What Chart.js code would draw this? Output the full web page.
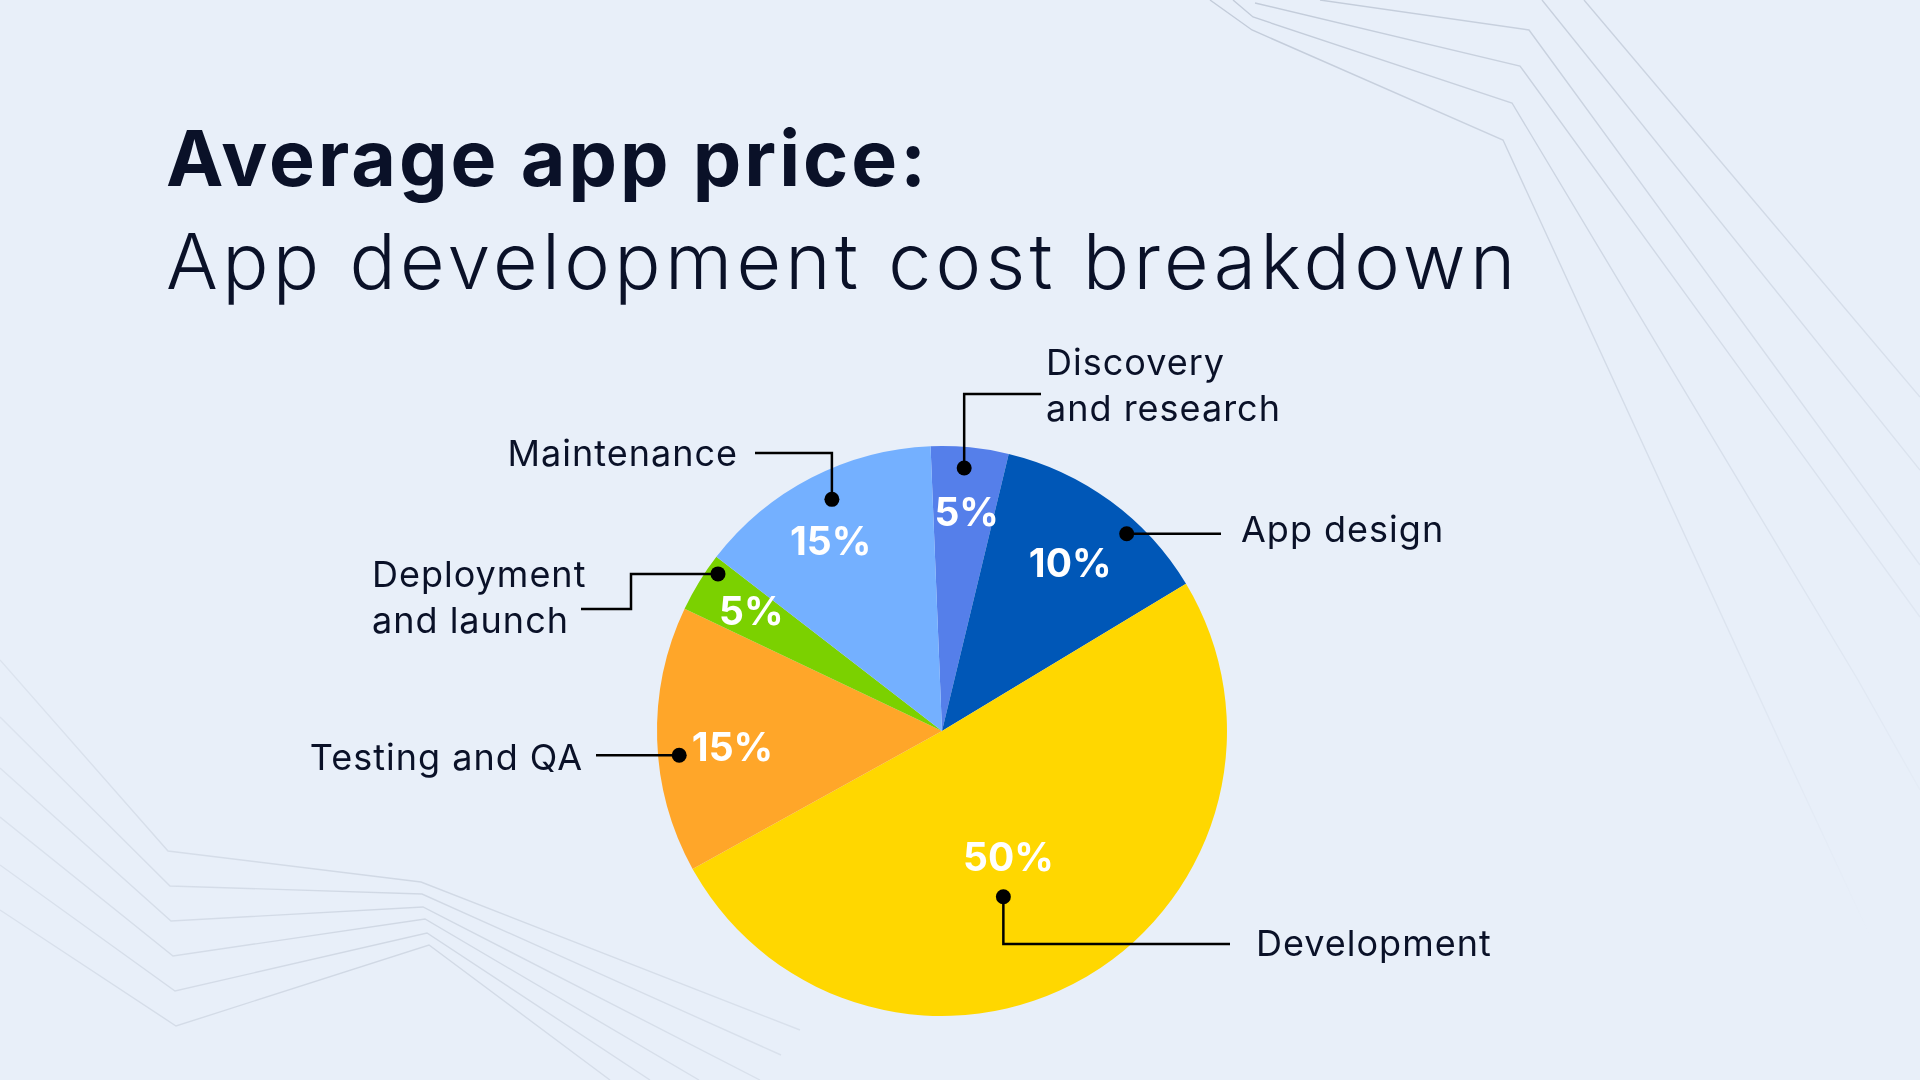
<!DOCTYPE html>
<html>
<head>
<meta charset="utf-8">
<title>Average app price</title>
<script src="https://cdn.jsdelivr.net/npm/chart.js@4.4.1/dist/chart.umd.min.js"></script>
<style>
  html, body { margin: 0; padding: 0; }
  body {
    width: 1920px; height: 1080px; overflow: hidden; position: relative;
    background: #E8EFF9; color: #0A1128; font-family: Inter, "Open Sans", sans-serif;
  }
  .bg { position: absolute; left: 0; top: 0; }
  .title, .subtitle { position: absolute; left: 166px; margin: 0; line-height: 1; white-space: nowrap; }
  .title { top: 120px; font-size: 77px; font-weight: 700; letter-spacing: 3px; }
  .subtitle { top: 223px; font-size: 77px; font-weight: 300; letter-spacing: 4.3px; }
  .chart-box { position: absolute; left: 0; top: 0; width: 1920px; height: 1080px; }
</style>
</head>
<body>

<!-- decoratieve lijnen op de achtergrond -->
<svg class="bg" width="1920" height="1080">
  <defs>
    <linearGradient id="fadeTop" gradientUnits="userSpaceOnUse" x1="1300" y1="0" x2="1850" y2="950">
      <stop offset="0" stop-color="#C3CCDA" stop-opacity="1"/>
      <stop offset="1" stop-color="#C3CCDA" stop-opacity="0"/>
    </linearGradient>
    <linearGradient id="fadeBottom" gradientUnits="userSpaceOnUse" x1="0" y1="700" x2="800" y2="1080">
      <stop offset="0" stop-color="#D0D8E4" stop-opacity="0.5"/>
      <stop offset="0.5" stop-color="#D0D8E4" stop-opacity="1"/>
      <stop offset="1" stop-color="#D0D8E4" stop-opacity="0.6"/>
    </linearGradient>
  </defs>
  <g fill="none" stroke="url(#fadeTop)" stroke-width="1.4">
    <polyline points="1210,0 1252,30 1503,140 1790,764 1900,1000"/>
    <polyline points="1233,0 1253,17 1512,103 1858,680 1920,790"/>
    <polyline points="1255,3 1520,66 1920,617"/>
    <polyline points="1320,0 1529,30 1920,565"/>
    <polyline points="1542,0 1920,470"/>
    <polyline points="1584,0 1920,397"/>
  </g>
  <g fill="none" stroke="url(#fadeBottom)" stroke-width="1.4">
    <polyline points="0,660 168,851 421,882 800,1030"/>
    <polyline points="0,717 170,886 422,894 781,1055"/>
    <polyline points="0,768 171,921 423,907 760,1080"/>
    <polyline points="0,817 173,956 425,919 699,1080"/>
    <polyline points="0,865 175,991 427,933 650,1080"/>
    <polyline points="0,910 176,1026 429,945 610,1080"/>
  </g>
</svg>

<h1 class="title">Average app price:</h1>
<h2 class="subtitle">App development cost breakdown</h2>

<div class="chart-box"><canvas id="costChart"></canvas></div>

<script>
// Categorieen en waarden
const categories = ["Discovery and research", "App design", "Development", "Testing and QA", "Deployment and launch", "Maintenance"];
// slice sizes as drawn in the picture (%)
const shares = [4.4, 12.6, 50.6, 15.1, 3.4, 13.9];
// percentages as printed on the slices
const shareLabels = ["5%", "10%", "50%", "15%", "5%", "15%"];
const sliceColors = ["#557FEA", "#0057B7", "#FFD700", "#FFA629", "#7BD100", "#74B0FF"];

// where the printed labels and the callouts go, per slice
const callouts = [
  { pctR: 0.775, pctTurn: 0.8,  dotR: 0.926, dotTurn: -0.8, path: [["y", 394], ["x", 1041]], lines: ["Discovery", "and research"], tx: 1046, ty: 375, align: "left" },
  { pctR: 0.742, pctTurn: 1.1,  dotR: 0.948, dotTurn: 6.9,  path: [["x", 1221]], lines: ["App design"], tx: 1241, ty: 542, align: "left" },
  { pctR: 0.50,  pctTurn: 2.2,  dotR: 0.62,  dotTurn: 9.7,  path: [["y", 944], ["x", 1230]], lines: ["Development"], tx: 1256, ty: 956, align: "left" },
  { pctR: 0.737, pctTurn: -2.5, dotR: 0.926, dotTurn: -3.5, path: [["x", 596]], lines: ["Testing and QA"], tx: 583, ty: 770, align: "right" },
  { pctR: 0.79,  pctTurn: 0.6,  dotR: 0.96,  dotTurn: 3.5,  path: [["x", 631], ["y", 609], ["x", 581]], lines: ["Deployment", "and launch"], tx: 372, ty: 587, align: "left" },
  { pctR: 0.774, pctTurn: -3.0, dotR: 0.90,  dotTurn: 1.9,  path: [["y", 453], ["x", 755]], lines: ["Maintenance"], tx: 738, ty: 466, align: "right" }
];

const labelFont = '400 36px Inter, "Open Sans", sans-serif';
const pctFont = '700 39px Inter, "Open Sans", sans-serif';
const inkColor = "#0A1128";

// Plugin: percentages, dots, leader lines and category names
const calloutPlugin = {
  id: "callouts",
  afterDatasetsDraw(chart) {
    const ctx = chart.ctx;
    const arcs = chart.getDatasetMeta(0).data;
    ctx.save();
    arcs.forEach(function (arc, i) {
      const p = arc.getProps(["x", "y", "startAngle", "endAngle", "outerRadius"], true);
      const mid = (p.startAngle + p.endAngle) / 2;
      const c = callouts[i];

      // printed percentage
      const pa = mid + c.pctTurn * Math.PI / 180;
      const pr = p.outerRadius * c.pctR;
      ctx.font = pctFont;
      ctx.letterSpacing = "0px";
      ctx.fillStyle = "#FFFFFF";
      ctx.textAlign = "center";
      ctx.textBaseline = "alphabetic";
      ctx.fillText(shareLabels[i], p.x + Math.cos(pa) * pr, p.y + Math.sin(pa) * pr + 14);

      // dot + leader line
      const da = mid + c.dotTurn * Math.PI / 180;
      const dx = p.x + Math.cos(da) * p.outerRadius * c.dotR;
      const dy = p.y + Math.sin(da) * p.outerRadius * c.dotR;
      ctx.strokeStyle = "#000000";
      ctx.lineWidth = 2.5;
      ctx.beginPath();
      ctx.moveTo(dx, dy);
      let cx = dx, cy = dy;
      c.path.forEach(function (step) {
        if (step[0] === "x") cx = step[1]; else cy = step[1];
        ctx.lineTo(cx, cy);
      });
      ctx.stroke();
      ctx.fillStyle = "#000000";
      ctx.beginPath();
      ctx.arc(dx, dy, 7.5, 0, Math.PI * 2);
      ctx.fill();

      // category name
      ctx.font = labelFont;
      ctx.letterSpacing = "1px";
      ctx.fillStyle = inkColor;
      ctx.textAlign = c.align;
      c.lines.forEach(function (line, k) {
        ctx.fillText(line, c.tx, c.ty + k * 45.5);
      });
    });
    ctx.restore();
  }
};

new Chart(document.getElementById("costChart"), {
  type: "pie",
  data: {
    labels: categories,
    datasets: [{
      data: shares,
      backgroundColor: sliceColors,
      borderWidth: 0,
      hoverOffset: 0
    }]
  },
  options: {
    responsive: true,
    maintainAspectRatio: false,
    animation: false,
    rotation: -2.3,
    layout: { padding: { left: 657, right: 693, top: 446, bottom: 64 } },
    plugins: {
      legend: { display: false },
      tooltip: { enabled: false }
    }
  },
  plugins: [calloutPlugin]
});
</script>
</body>
</html>
